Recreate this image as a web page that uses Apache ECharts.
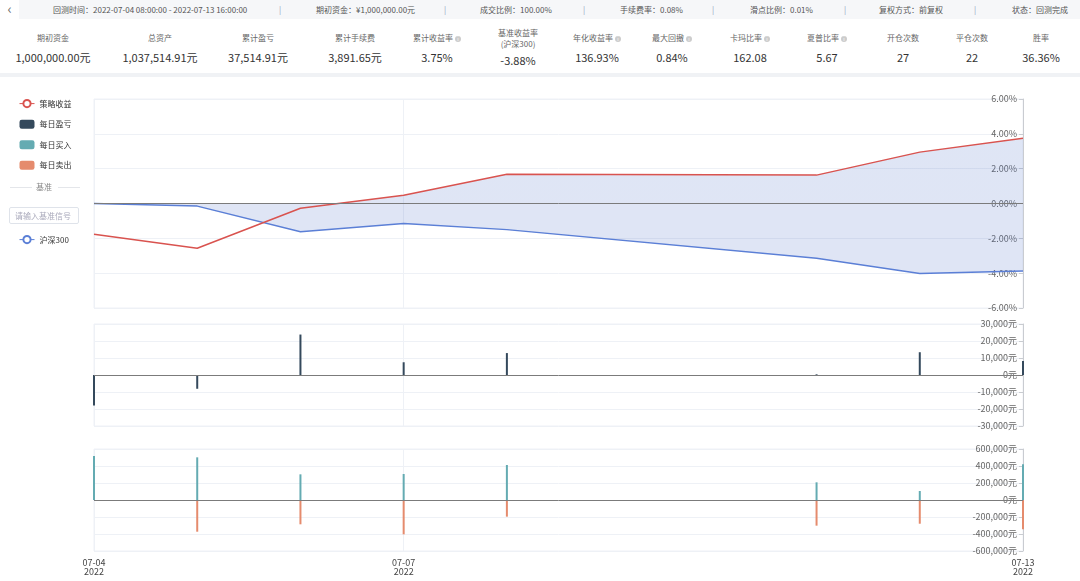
<!DOCTYPE html>
<html>
<head>
<meta charset="utf-8">
<script src="https://cdn.jsdelivr.net/npm/echarts@6/dist/echarts.min.js"></script>
<style>
body{margin:0;width:1080px;height:581px;background:#fff;position:relative;overflow:hidden;font-family:"Noto Sans CJK SC","Noto Sans",sans-serif;}
.bar1{position:absolute;left:0;top:0;width:1080px;height:19px;background:#f6f7f9;font-size:8px;color:#555;}
.bar1 span{position:absolute;top:4px;white-space:nowrap;line-height:11px;}
.bar1 .sep{color:#8a9fbd;}
.back{position:absolute;left:0;top:0;width:19px;height:19px;background:#fff;color:#666;font-size:14px;text-align:center;line-height:17px;}
.stat{position:absolute;width:100px;text-align:center;white-space:nowrap;}
.lab{font-size:8px;color:#666;top:32px;line-height:11px;}
.val{font-size:11px;color:#333;top:50px;line-height:15px;}
.i{display:inline-block;width:6px;height:6px;border-radius:50%;background:#ccc;color:#fff;font-size:5px;line-height:6px;text-align:center;vertical-align:0;margin-left:2px;}
.band{position:absolute;left:0;top:73px;width:1080px;height:4px;background:#f0f2f5;}
.divider{position:absolute;left:8px;top:181px;width:72px;height:12px;font-size:8px;color:#888;text-align:center;line-height:12px;}
.divider:before,.divider:after{content:"";position:absolute;top:6px;width:22px;border-top:1px solid #e4e6ea;}
.divider:before{left:2px}
.divider:after{right:0}
.inp{position:absolute;left:9px;top:207px;width:70px;height:17px;border:1px solid #dfe3ea;border-radius:2px;box-sizing:border-box;font-size:8px;color:#aaa;padding:0 0 0 5px;font-family:inherit;outline:none;}
.inp::placeholder{color:#aab;}
#chart{position:absolute;left:0;top:78px;width:1080px;height:503px;}
</style>
</head>
<body>
<div class="bar1">
  <div class="back">&lsaquo;</div>
  <span style="left:53px">回测时间：2022-07-04 08:00:00 - 2022-07-13 16:00:00</span>
  <span class="sep" style="left:279px">|</span>
  <span style="left:316px">期初资金：¥1,000,000.00元</span>
  <span class="sep" style="left:444px">|</span>
  <span style="left:480px">成交比例：100.00%</span>
  <span class="sep" style="left:583px">|</span>
  <span style="left:620px">手续费率：0.08%</span>
  <span class="sep" style="left:712px">|</span>
  <span style="left:750px">滑点比例：0.01%</span>
  <span class="sep" style="left:844px">|</span>
  <span style="left:879px">复权方式：前复权</span>
  <span class="sep" style="left:974px">|</span>
  <span style="left:1012px">状态：回测完成</span>
</div>

<div class="stat lab" style="left:3px">期初资金</div>
<div class="stat val" style="left:3px">1,000,000.00元</div>
<div class="stat lab" style="left:110px">总资产</div>
<div class="stat val" style="left:110px">1,037,514.91元</div>
<div class="stat lab" style="left:208px">累计盈亏</div>
<div class="stat val" style="left:208px">37,514.91元</div>
<div class="stat lab" style="left:305px">累计手续费</div>
<div class="stat val" style="left:305px">3,891.65元</div>
<div class="stat lab" style="left:387px">累计收益率<span class="i">i</span></div>
<div class="stat val" style="left:387px">3.75%</div>
<div class="stat lab" style="left:468px;top:27px">基准收益率<br>(沪深300)</div>
<div class="stat val" style="left:468px;top:53px">-3.88%</div>
<div class="stat lab" style="left:547px">年化收益率<span class="i">i</span></div>
<div class="stat val" style="left:547px">136.93%</div>
<div class="stat lab" style="left:622px">最大回撤<span class="i">i</span></div>
<div class="stat val" style="left:622px">0.84%</div>
<div class="stat lab" style="left:700px">卡玛比率<span class="i">i</span></div>
<div class="stat val" style="left:700px">162.08</div>
<div class="stat lab" style="left:777px">夏普比率<span class="i">i</span></div>
<div class="stat val" style="left:777px">5.67</div>
<div class="stat lab" style="left:853px">开仓次数</div>
<div class="stat val" style="left:853px">27</div>
<div class="stat lab" style="left:922px">平仓次数</div>
<div class="stat val" style="left:922px">22</div>
<div class="stat lab" style="left:991px">胜率</div>
<div class="stat val" style="left:991px">36.36%</div>
<div class="band"></div>

<div id="chart"></div>
<div class="divider">基准</div>
<input class="inp" placeholder="请输入基准信号">

<script>
// 交易日
var dates = ['2022-07-04', '2022-07-05', '2022-07-06', '2022-07-07', '2022-07-08', '2022-07-11', '2022-07-12', '2022-07-13'];

// 收益率 (%)
var strategyReturn = [-1.76, -2.57, -0.27, 0.48, 1.68, 1.63, 2.95, 3.75];
var benchmarkReturn = [0, -0.15, -1.62, -1.15, -1.50, -3.15, -4.02, -3.88];

// 每日盈亏 / 买入 / 卖出 (元)
var dailyPnl = [-17900, -8100, 23800, 7500, 12900, 400, 13400, 8200];
var dailyBuy = [518000, 502000, 302000, 306000, 412000, 208000, 106000, 420000];
var dailySell = [null, -373000, -286000, -404000, -196000, -302000, -279000, -345000];

var fillColor = 'rgba(84, 118, 201, 0.27)';
var gridLine = '#eef1f6';
var DAY = 86400000;

// x 轴用距首日的天数, 周末留空
var base = echarts.number.parseDate(dates[0]).getTime();
var dayNo = dates.map(function (d) { return Math.round((echarts.number.parseDate(d).getTime() - base) / DAY); });
var lastDay = dayNo[dayNo.length - 1];

function pair(arr) {
    return dayNo.map(function (x, i) { return [x, arr[i]]; });
}
function pad(n) { return n < 10 ? '0' + n : '' + n; }
function money(v) {
    var s = String(Math.abs(v)).replace(/\B(?=(\d{3})+(?!\d))/g, ',');
    return (v < 0 ? '-' : '') + s + '元';
}
// 只显示 07-04 / 07-07 / 07-13
function shown(v) { return v === 0 || v === 3 || v === lastDay; }

function makeX(gi, showLabel) {
    return {
        type: 'value', gridIndex: gi,
        min: 0, max: lastDay, interval: 3,
        axisLine: { show: false, onZero: false },
        axisTick: { show: false },
        splitLine: { show: true, lineStyle: { color: [gridLine, gridLine, 'rgba(0,0,0,0)', gridLine] } },
        axisLabel: {
            show: showLabel, color: '#444', fontSize: 9, lineHeight: 9, margin: 7,
            formatter: function (v) {
                if (!shown(v)) return '';
                var d = new Date(base + v * DAY);
                return pad(d.getMonth() + 1) + '-' + pad(d.getDate()) + '\n' + d.getFullYear();
            }
        }
    };
}
function makeY(gi, min, max, interval, fmt) {
    return {
        type: 'value', gridIndex: gi, position: 'right',
        min: min, max: max, interval: interval,
        axisLine: { show: true, onZero: false, lineStyle: { color: '#c9ccd1' } },
        axisTick: { show: true, inside: true, length: 4, lineStyle: { color: '#c9ccd1' } },
        axisLabel: { inside: true, margin: 6, color: '#666', fontSize: 9, formatter: fmt },
        splitLine: { lineStyle: { color: gridLine } }
    };
}
var zeroLine = {
    silent: true, symbol: 'none', animation: false,
    label: { show: false },
    lineStyle: { color: '#7b7b7b', width: 1, type: 'solid' },
    data: [{ yAxis: 0 }]
};

// 红线只在 0 以上填充
var sMax = Math.max.apply(null, strategyReturn.concat([0]));
var sMin = Math.min.apply(null, strategyReturn.concat([0]));
var zeroAt = sMax / (sMax - sMin);

var thinIcon = { itemStyle: { borderWidth: 1 }, lineStyle: { width: 1 } };

var option = {
    animation: false,
    textStyle: { fontFamily: '"Noto Sans CJK SC", "Noto Sans", sans-serif' },
    legend: [{
        data: [Object.assign({ name: '策略收益' }, thinIcon), '每日盈亏', '每日买入', '每日卖出'],
        orient: 'vertical', left: 14, top: 16,
        itemWidth: 15, itemHeight: 9, itemGap: 11.5,
        textStyle: { fontSize: 8, color: '#333' }
    }, {
        data: [Object.assign({ name: '沪深300' }, thinIcon)],
        orient: 'vertical', left: 14, top: 152,
        itemWidth: 15, itemHeight: 9,
        textStyle: { fontSize: 8, color: '#333' }
    }],
    grid: [
        { left: 94, width: 929, top: 21, height: 209, show: true, borderColor: gridLine },
        { left: 94, width: 929, top: 246, height: 102, show: true, borderColor: gridLine },
        { left: 94, width: 929, top: 371, height: 102, show: true, borderColor: gridLine }
    ],
    xAxis: [makeX(0, false), makeX(1, false), makeX(2, true)],
    yAxis: [
        makeY(0, -6, 6, 2, function (v) { return v.toFixed(2) + '%'; }),
        makeY(1, -30000, 30000, 10000, money),
        makeY(2, -600000, 600000, 200000, money)
    ],
    series: [{
        name: '策略收益', type: 'line', xAxisIndex: 0, yAxisIndex: 0,
        data: pair(strategyReturn),
        showSymbol: false, symbol: 'emptyCircle', symbolSize: 6,
        color: '#d9534f', lineStyle: { width: 1.5 }, z: 4,
        areaStyle: {
            color: {
                type: 'linear', x: 0, y: 0, x2: 0, y2: 1,
                colorStops: [
                    { offset: 0, color: fillColor }, { offset: zeroAt, color: fillColor },
                    { offset: zeroAt, color: 'rgba(0,0,0,0)' }, { offset: 1, color: 'rgba(0,0,0,0)' }
                ]
            }
        }
    }, {
        name: '沪深300', type: 'line', xAxisIndex: 0, yAxisIndex: 0,
        data: pair(benchmarkReturn),
        showSymbol: false, symbol: 'emptyCircle', symbolSize: 6,
        color: '#5b7fd6', lineStyle: { width: 1.5 }, z: 3,
        areaStyle: { color: fillColor },
        markLine: zeroLine
    }, {
        name: '每日盈亏', type: 'bar', xAxisIndex: 1, yAxisIndex: 1,
        data: pair(dailyPnl), barWidth: 2,
        color: '#34495c',
        markLine: zeroLine
    }, {
        name: '每日买入', type: 'bar', xAxisIndex: 2, yAxisIndex: 2,
        data: pair(dailyBuy), barWidth: 2, stack: 'trade',
        color: '#64abb2',
        markLine: zeroLine
    }, {
        name: '每日卖出', type: 'bar', xAxisIndex: 2, yAxisIndex: 2,
        data: pair(dailySell), barWidth: 2, stack: 'trade',
        color: '#e58b6d'
    }]
};

var myChart = echarts.init(document.getElementById('chart'));
myChart.setOption(option);
</script>
</body>
</html>
